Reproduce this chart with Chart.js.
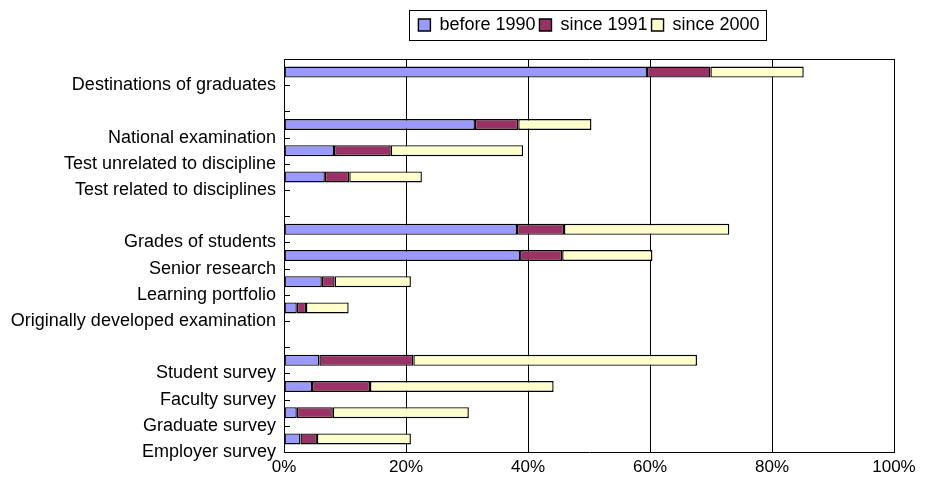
<!DOCTYPE html>
<html><head><meta charset="utf-8">
<script src="https://cdn.jsdelivr.net/npm/chart.js@4/dist/chart.umd.min.js"></script>
<style>html,body{margin:0;padding:0;background:#fff;}#wrap{width:927px;height:477px;}</style>
</head><body><div id="wrap"><canvas id="c" width="927" height="477"></canvas></div>
<script>
const categories = ['Destinations of graduates', '', 'National examination', 'Test unrelated to discipline', 'Test related to disciplines', '', 'Grades of students', 'Senior research', 'Learning portfolio', 'Originally developed examination', '', 'Student survey', 'Faculty survey', 'Graduate survey', 'Employer survey'];
const seriesNames = ['before 1990', 'since 1991', 'since 2000'];
const before1990 = [59.5, null, 31.3, 8.2, 6.7, null, 38.2, 38.7, 6.2, 2.1, null, 5.8, 4.6, 2.1, 2.7];
const since1991  = [10.4, null, 7.1, 9.3, 4.0, null, 7.7, 6.9, 2.1, 1.5, null, 15.4, 9.5, 5.9, 2.7];
const since2000  = [15.3, null, 12.0, 21.7, 11.9, null, 27.1, 14.8, 12.5, 7.0, null, 46.5, 30.1, 22.3, 15.4];
const xTicks = [0, 20, 40, 60, 80, 100];

const FONT = "'Liberation Sans', Arial, Helvetica, sans-serif";
const colors = ['#9999FF', '#993366', '#FFFFCC'];
const values = [before1990, since1991, since2000];

const innerTicks = {
  id: 'innerTicks',
  afterLayout(chart) {
    const lg = chart.legend;
    const a = chart.chartArea;
    lg.left = a.left; lg.right = a.right; lg.width = a.right - a.left;
    const h = lg.height;
    lg.top = 12; lg.bottom = 12 + h;
  },
  afterDraw(chart) {
    const ctx = chart.ctx;
    const s = chart.scales.yl;
    ctx.save();
    ctx.strokeStyle = '#000';
    ctx.lineWidth = 1;
    s.ticks.forEach(t => {
      const y = Math.round(s.getPixelForValue(t.value)) + 0.5;
      ctx.beginPath(); ctx.moveTo(s.right, y); ctx.lineTo(s.right + 6, y); ctx.stroke();
    });
    const hb = chart.legend.legendHitBoxes;
    if (hb && hb.length) {
      const l = Math.min(...hb.map(h => h.left)) - 9;
      const r = Math.max(...hb.map(h => h.left + h.width)) + 7;
      const t = hb[0].top - 6;
      const b = hb[0].top + hb[0].height + 6;
      ctx.strokeRect(Math.round(l) + 0.5, Math.round(t) + 0.5, Math.round(r - l), Math.round(b - t));
    }
    ctx.restore();
  }
};

new Chart(document.getElementById('c'), {
  type: 'bar',
  data: {
    labels: categories,
    datasets: seriesNames.map((n, i) => ({
      label: n,
      data: values[i],
      backgroundColor: colors[i],
      borderColor: '#000',
      borderWidth: 1.4,
      borderSkipped: false,
      categoryPercentage: 1,
      barPercentage: 0.42,
      xAxisID: 'x',
      yAxisID: 'y'
    }))
  },
  options: {
    indexAxis: 'y',
    responsive: false,
    animation: false,
    devicePixelRatio: 1,
    layout: { padding: { top: 0, right: 33, bottom: 0, left: 0 } },
    plugins: {
      legend: {
        position: 'top',
        labels: { boxWidth: 12, boxHeight: 12, padding: 4, color: '#000', font: { family: FONT, size: 18 } }
      },
      tooltip: { enabled: false }
    },
    scales: {
      x: {
        type: 'linear', position: 'bottom', stacked: true, min: 0, max: 100,
        afterBuildTicks: s => { s.ticks = xTicks.map(v => ({ value: v })); },
        ticks: { callback: v => v + '%', color: '#000', font: { family: FONT, size: 17 }, padding: 5, maxRotation: 0, autoSkip: false },
        grid: { color: '#000', lineWidth: 1, drawTicks: false },
        border: { display: true, color: '#000', width: 1 },
        afterFit: s => { s.height = 25; }
      },
      x2: {
        type: 'linear', position: 'top', min: 0, max: 100,
        ticks: { display: false },
        grid: { display: false, drawTicks: false },
        border: { display: true, color: '#000', width: 1 },
        afterFit: s => { s.height = 27; }
      },
      y: { type: 'category', stacked: true, display: false },
      yl: {
        type: 'linear', position: 'left', reverse: true, offset: false, min: 0, max: categories.length, bounds: 'data',
        afterBuildTicks: s => { s.ticks = [0].concat(categories.map((c, i) => i + 1)).map(v => ({ value: v })); },
        ticks: { callback: v => (v > 0 ? categories[v - 1] : ''), color: '#000', font: { family: FONT, size: 18 }, padding: 8, autoSkip: false },
        grid: { display: false, drawTicks: false, offset: false },
        border: { display: true, color: '#000', width: 1 },
        afterFit: s => { s.width = 284; }
      }
    }
  },
  plugins: [innerTicks]
});
</script>
</body></html>
